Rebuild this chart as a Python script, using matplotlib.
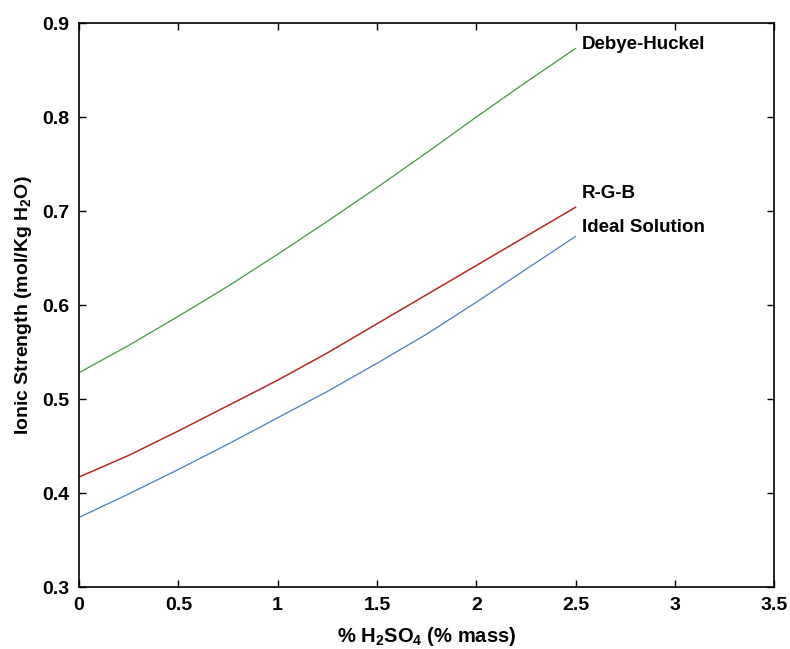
import numpy as np
import matplotlib
matplotlib.use("Agg")
import matplotlib.pyplot as plt

plt.rcParams['font.family'] = ['Liberation Sans', 'DejaVu Sans']
plt.rcParams['font.weight'] = 'bold'
plt.rcParams['axes.labelweight'] = 'bold'
plt.rcParams['mathtext.fontset'] = 'custom'
plt.rcParams['mathtext.rm'] = 'Liberation Sans:bold'
plt.rcParams['mathtext.it'] = 'Liberation Sans:bold'
plt.rcParams['mathtext.default'] = 'rm'

# % H2SO4 (mass) and ionic strength for each model
h2so4 = [0, 0.25, 0.5, 0.75, 1.0, 1.25, 1.5, 1.75, 2.0, 2.25, 2.5]
debye_huckel = [0.528, 0.557, 0.588, 0.620, 0.654, 0.689, 0.725, 0.762, 0.800, 0.837, 0.873]
rgb = [0.417, 0.440, 0.466, 0.493, 0.520, 0.549, 0.580, 0.611, 0.642, 0.673, 0.704]
ideal = [0.374, 0.399, 0.425, 0.452, 0.480, 0.508, 0.538, 0.569, 0.603, 0.638, 0.673]

x_ticks = [0, 0.5, 1, 1.5, 2, 2.5, 3, 3.5]
y_ticks = [0.3, 0.4, 0.5, 0.6, 0.7, 0.8, 0.9]

fig = plt.figure(figsize=(7.9, 6.49), dpi=100)
ax = fig.add_axes([0.1, 0.0955, 0.88, 0.869])

ax.plot(h2so4, debye_huckel, color='#3f9a3f', lw=0.9)
ax.plot(h2so4, rgb, color='#b52a22', lw=1.1)
ax.plot(h2so4, ideal, color='#4a7cc4', lw=0.9)

ax.text(2.53, 0.877, 'Debye-Huckel', fontsize=13.5, va='center')
ax.text(2.53, 0.719, 'R-G-B', fontsize=13.5, va='center')
ax.text(2.53, 0.683, 'Ideal Solution', fontsize=13.5, va='center')

ax.set_xlim(0, 3.5)
ax.set_ylim(0.3, 0.9)
ax.set_xticks(x_ticks)
ax.set_xticklabels(['0', '0.5', '1', '1.5', '2', '2.5', '3', '3.5'])
ax.set_yticks(y_ticks)
ax.tick_params(direction='in', top=True, right=True, labelsize=14, length=5, width=1, pad=7)
for s in ax.spines.values():
    s.set_linewidth(1.2)

ax.set_xlabel('% H$_2$SO$_4$ (% mass)', fontsize=14.5, labelpad=8)
ax.set_ylabel('Ionic Strength (mol/Kg H$_2$O)', fontsize=14, labelpad=6)

fig.savefig('out.png', dpi=100)
